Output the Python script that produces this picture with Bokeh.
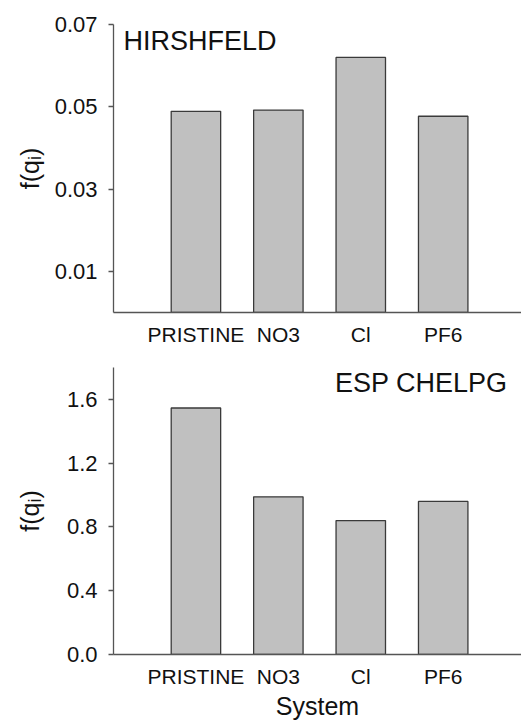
from bokeh.plotting import figure
from bokeh.models import Range1d, FixedTicker, PrintfTickFormatter, Label, ColumnDataSource
from bokeh.layouts import column
from bokeh.embed import file_html
from bokeh.resources import INLINE

systems = ["PRISTINE", "NO3", "Cl", "PF6"]
hirshfeld = [0.0489, 0.0492, 0.0620, 0.0477]
esp_chelpg = [1.546, 0.989, 0.840, 0.960]
hirsh_ticks = [0.01, 0.03, 0.05, 0.07]
esp_ticks = [0.0, 0.4, 0.8, 1.2, 1.6]

FONT = "Liberation Sans"
BAR_FILL = "#c0c0c0"
BAR_LINE = "#3a3a3a"
AXIS_COLOR = "#555555"

xpos = list(range(1, len(systems) + 1))
overrides = {i: s for i, s in zip(xpos, systems)}


def make_fig(values, ymax, ticks, fmt, height, border_left, border_top, border_bottom,
             title, tx, ty, talign, ylabel_standoff, xlabel=None):
    p = figure(width=521, height=height, output_backend="svg", toolbar_location=None,
               x_range=Range1d(0, 4.95), y_range=Range1d(0, ymax),
               min_border_left=border_left, min_border_right=0,
               min_border_top=border_top, min_border_bottom=border_bottom)
    p.outline_line_color = None
    p.grid.visible = False
    src = ColumnDataSource(dict(x=xpos, top=values))
    p.vbar(x="x", top="top", width=0.6, bottom=0, source=src,
           fill_color=BAR_FILL, line_color=BAR_LINE, line_width=1.3)

    xa = p.xaxis[0]
    xa.ticker = FixedTicker(ticks=xpos)
    xa.major_label_overrides = overrides
    xa.major_tick_line_color = None
    xa.minor_tick_line_color = None
    xa.axis_line_color = AXIS_COLOR
    xa.axis_line_width = 1.3
    xa.major_label_text_font = FONT
    xa.major_label_text_font_size = "21px"
    xa.major_label_text_color = "#111111"
    xa.major_label_standoff = 4
    if xlabel:
        xa.axis_label = xlabel
        xa.axis_label_text_font = FONT
        xa.axis_label_text_font_size = "25px"
        xa.axis_label_text_font_style = "normal"
        xa.axis_label_text_color = "#111111"
        xa.axis_label_standoff = 1

    ya = p.yaxis[0]
    ya.ticker = FixedTicker(ticks=ticks)
    ya.formatter = PrintfTickFormatter(format=fmt)
    ya.minor_tick_line_color = None
    ya.major_tick_in = 0
    ya.major_tick_out = 5
    ya.major_tick_line_color = AXIS_COLOR
    ya.major_tick_line_width = 1.3
    ya.axis_line_color = AXIS_COLOR
    ya.axis_line_width = 1.3
    ya.major_label_text_font = FONT
    ya.major_label_text_font_size = "22px"
    ya.major_label_text_color = "#111111"
    ya.major_label_standoff = 11
    ya.axis_label = "f(qᵢ)"
    ya.axis_label_text_font = FONT
    ya.axis_label_text_font_size = "25px"
    ya.axis_label_text_font_style = "normal"
    ya.axis_label_text_color = "#111111"
    ya.axis_label_standoff = ylabel_standoff

    p.add_layout(Label(x=tx, y=ty, text=title, text_font=FONT, text_font_size="27px",
                       text_color="#111111", text_align=talign, text_baseline="middle"))
    return p


top = make_fig(hirshfeld, 0.07, hirsh_ticks, "%.2f", 357, 113, 24, 45,
               "HIRSHFELD", 0.12, 0.0661, "left", 8)
bottom = make_fig(esp_chelpg, 1.8, esp_ticks, "%.1f", 366, 112, 10, 69,
                  "ESP CHELPG", 4.78, 1.70, "right", 20, xlabel="System")

layout = column(top, bottom, spacing=0)
open("out.html", "w").write(file_html(layout, INLINE))
